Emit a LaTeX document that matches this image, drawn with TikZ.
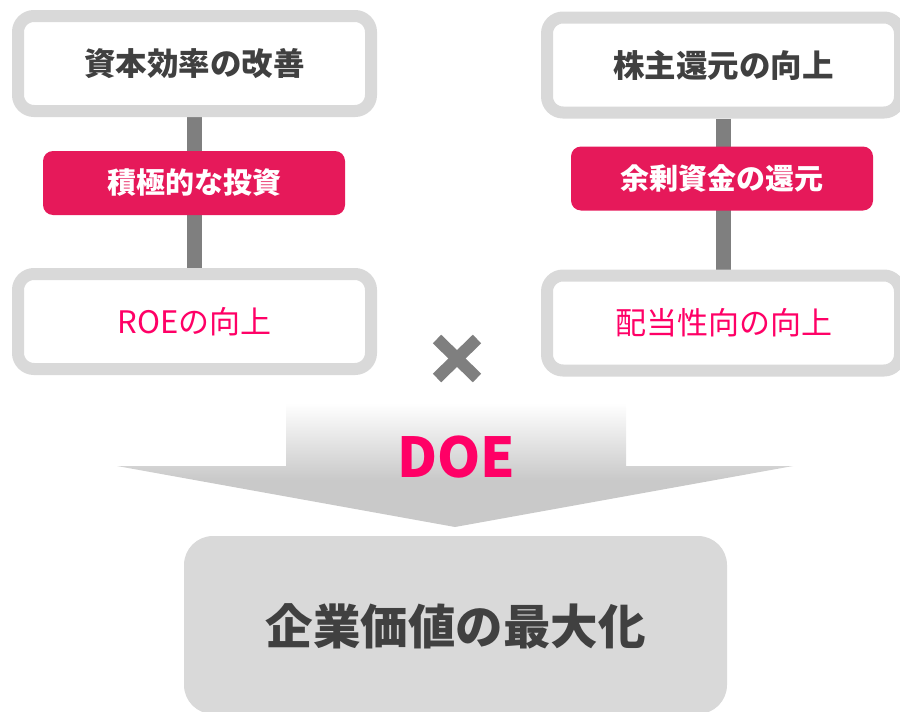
\documentclass[tikz,border=0pt]{standalone}
\usepackage{fontspec}
\setmainfont{Noto Sans CJK JP}
\usetikzlibrary{backgrounds}
\definecolor{bordergray}{HTML}{D9D9D9}
\definecolor{conngray}{HTML}{7F7F7F}
\definecolor{boxpink}{HTML}{E6195A}
\definecolor{textpink}{HTML}{FF0066}
\definecolor{darktext}{HTML}{404040}
\definecolor{headgray}{HTML}{C9C9C9}
\pgfdeclareverticalshading{doeshade}{100bp}{color(0bp)=(headgray); color(44bp)=(headgray); color(75bp)=(white); color(100bp)=(white)}
\begin{document}
\begin{tikzpicture}[x=1pt,y=-1pt,
  framebox/.style={draw=bordergray, line width=12pt, fill=white, rounded corners=16pt,
    minimum width=353pt, minimum height=95pt, inner sep=0pt},
  pinkbox/.style={fill=boxpink, rounded corners=10pt, minimum width=302pt, minimum height=64pt,
    inner sep=0pt, text=white, font=\fontsize{29}{33}\selectfont\bfseries},
  titletext/.style={text=darktext, font=\fontsize{31.5}{35}\selectfont\bfseries},
  resulttext/.style={text=textpink, font=\fontsize{31}{35}\selectfont},
  conn/.style={draw=conngray, line width=15pt},
  crossline/.style={draw=conngray, line width=12pt, line cap=butt},
  goalbox/.style={fill=bordergray, rounded corners=29pt, minimum width=543pt, minimum height=178pt, inner sep=0pt},
  goaltext/.style={text=darktext, font=\fontsize{47.5}{52}\selectfont\bfseries},
  doetext/.style={text=textpink, font=\fontsize{55}{60}\selectfont\bfseries}]
\useasboundingbox (0,0) rectangle (900,712);
\clip (0,0) rectangle (900,712);

% top/bottom frames
\node[framebox, titletext] (lt) at (194.5,63.5) {資本効率の改善};
\node[framebox, resulttext] (lb) at (194.5,321.5) {ROEの向上};
\node[framebox, titletext] (rt) at (723.5,65) {株主還元の向上};
\node[framebox, resulttext] (rb) at (723.5,323) {配当性向の向上};

% pink middle boxes
\node[pinkbox] (lm) at (194,183) {積極的な投資};
\node[pinkbox] (rm) at (722,178.5) {余剰資金の還元};

% connectors
\begin{scope}[on background layer]
\draw[conn] (lt.south) -- (lb.north);
\draw[conn] (rt.south) -- (rb.north);
\end{scope}

% times sign
\coordinate (c1) at (437,339);
\coordinate (c2) at (477,378);
\coordinate (c3) at (477,339);
\coordinate (c4) at (437,378);
\draw[crossline] (c1) -- (c2);
\draw[crossline] (c3) -- (c4);

% DOE arrow
\shade[shading=doeshade] (286,403) -- (626,403) -- (626,466) -- (793,466) -- (455,527)
  -- (117,466) -- (286,466) -- cycle;
\node[doetext] (doe) at (456,457) {DOE};

% goal box
\node[goalbox] (goal) at (455.5,625) {};
\node[goaltext] (goalt) at (455.5,626) {企業価値の最大化};
\end{tikzpicture}
\end{document}
